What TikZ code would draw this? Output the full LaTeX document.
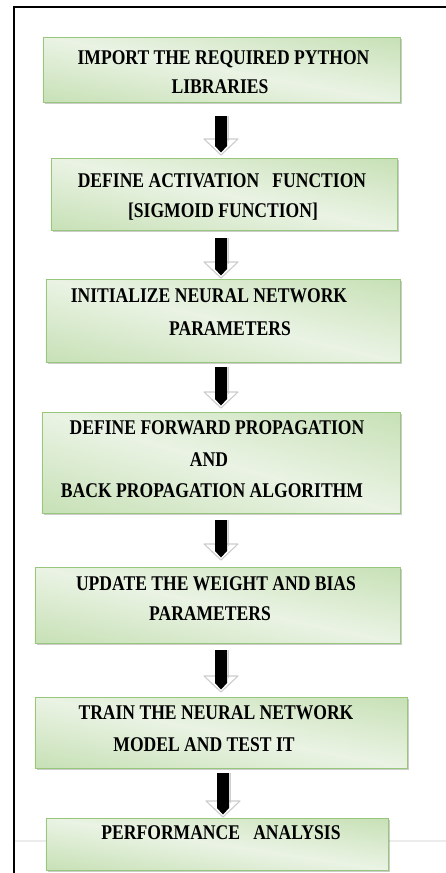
\documentclass[tikz,border=0pt]{standalone}
\usepackage{fontspec}
\setmainfont{Liberation Serif}
\usepackage{graphicx}
\usetikzlibrary{calc}

\definecolor{gdark}{RGB}{164,206,136}
\definecolor{glight}{RGB}{234,243,228}
\definecolor{gedge}{RGB}{152,198,122}
\definecolor{headgrey}{RGB}{205,205,205}
\definecolor{rulegrey}{RGB}{236,236,236}

\tikzset{
  stepbox/.style={draw=gedge, line width=0.8bp, inner sep=0pt, outer sep=0pt},
  boxfill/.style={top color=gdark, bottom color=gdark, middle color=glight},
  boxshadow/.style={fill=black, opacity=0.2},
  lbl/.style={anchor=base, inner sep=0pt, font=\fontsize{21}{25}\selectfont\bfseries, text=black},
  frame/.style={line width=2bp, black},
}
% horizontally condensed caption text
\newcommand\sq[1]{\scalebox{0.84}[1]{#1}}

% green process box: #1 name, #2 #3 centre, #4 width, #5 height
% the gradient runs along the box diagonal: a unit square is stretched onto
% the box and, inside it, a tilted band shading is clipped to the square
\newcommand\greenbox[5]{%
  \fill[boxshadow] ($(#2,#3)+(-#4/2+1.5,-#5/2+1.8)$) rectangle ($(#2,#3)+(#4/2+1.5,#5/2+1.8)$);
  \begin{scope}[transform canvas={shift={(#2,#3)}, xscale=#4/100, yscale=#5/100}]
    \clip (-50bp,-50bp) rectangle (50bp,50bp);
    \begin{scope}[transform canvas={rotate=-45}]
      \shade[boxfill] (-71bp,-141bp) rectangle (71bp,141bp);
    \end{scope}
  \end{scope}
  \node[stepbox, minimum width=#4bp, minimum height=#5bp] (#1) at (#2,#3) {};
}

% block arrow between two boxes: #1 upper box, #2 lower box,
% #3 gap below upper box, #4 gap above lower box, #5 axis x
\newcommand\flowarrow[5]{%
  \path let \p1=(#1.south), \p2=(#2.north), \p3=(#5,0) in
    [fill=white, draw=headgrey, line width=1.1bp, line join=round]
    (\x3-17bp,\y2+#4bp+16bp) -- (\x3,\y2+#4bp) -- (\x3+17bp,\y2+#4bp+16bp) -- cycle;
  \path let \p1=(#1.south), \p2=(#2.north), \p3=(#5,0) in
    [draw=headgrey, line width=1bp]
    (\x3+7.5bp,\y1-#3bp) -- (\x3+7.5bp,\y2+#4bp+14bp);
  \path let \p1=(#1.south), \p2=(#2.north), \p3=(#5,0) in
    [fill=black]
    (\x3-6bp,\y1-#3bp) -- (\x3+6bp,\y1-#3bp) -- (\x3+6bp,\y2+#4bp+9bp)
    -- (\x3,\y2+#4bp+2.5bp) -- (\x3-6bp,\y2+#4bp+9bp) -- cycle;
}

\begin{document}
\begin{tikzpicture}[x=1bp, y=-1bp]
\useasboundingbox (0,0) rectangle (446,873);
\fill[white] (-3,-3) rectangle (449,876);

% page frame and faint rule
\draw[rulegrey, line width=2bp] (15,841) -- (449,841);
\draw[frame] (14,876) -- (14,7) -- (449,7);

% process boxes
\greenbox{b1}{221.5}{69.5}{357}{65}
\greenbox{b2}{224}{194}{346}{72}
\greenbox{b3}{223}{320.5}{354}{83}
\greenbox{b4}{221}{462.5}{358}{101}
\greenbox{b5}{217.5}{605}{365}{76}
\greenbox{b6}{221}{732.5}{372}{71}
\greenbox{b7}{217}{844}{342}{52}

% captions
\node[lbl] (t1a) at (223.5,64) {\sq{IMPORT THE REQUIRED PYTHON}};
\node[lbl] (t1b) at (220,93) {\sq{LIBRARIES}};
\node[lbl] (t2a) at (222,187) {\sq{DEFINE ACTIVATION\ \ \ FUNCTION}};
\node[lbl] (t2b) at (223,217) {\sq{[SIGMOID FUNCTION]}};
\node[lbl] (t3a) at (209,302) {\sq{INITIALIZE NEURAL NETWORK}};
\node[lbl] (t3b) at (230,335) {\sq{PARAMETERS}};
\node[lbl] (t4a) at (217,434) {\sq{DEFINE FORWARD PROPAGATION}};
\node[lbl] (t4b) at (209,466) {\sq{AND}};
\node[lbl] (t4c) at (212,497) {\sq{BACK PROPAGATION ALGORITHM}};
\node[lbl] (t5a) at (216,590) {\sq{UPDATE THE WEIGHT AND BIAS}};
\node[lbl] (t5b) at (210,620) {\sq{PARAMETERS}};
\node[lbl] (t6a) at (216,719) {\sq{TRAIN THE NEURAL NETWORK}};
\node[lbl] (t6b) at (204,751) {\sq{MODEL AND TEST IT}};
\node[lbl] (t7a) at (221,839) {\sq{PERFORMANCE\ \ \ ANALYSIS}};

% arrows
\flowarrow{b1}{b2}{14}{3}{221}
\flowarrow{b2}{b3}{8}{1}{221}
\flowarrow{b3}{b4}{5}{4}{221}
\flowarrow{b4}{b5}{7}{7}{221}
\flowarrow{b5}{b6}{7}{5}{221}
\flowarrow{b6}{b7}{5}{1}{223}
\end{tikzpicture}
\end{document}
